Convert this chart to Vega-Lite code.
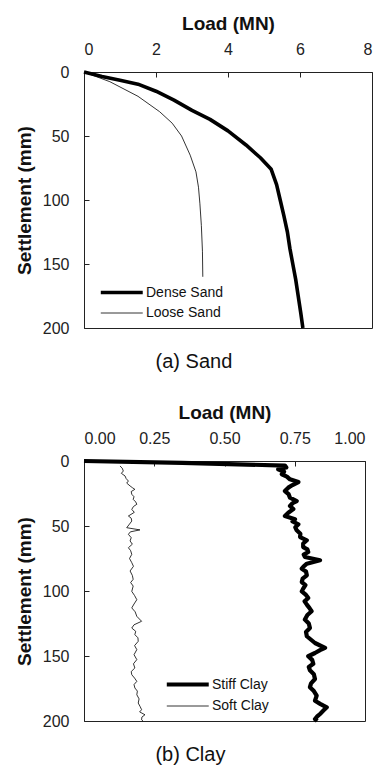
{
  "$schema": "https://vega.github.io/schema/vega-lite/v6.json",
  "background": "white",
  "padding": {"top": 13, "left": 14, "right": 0, "bottom": 0},
  "spacing": 29,
  "resolve": {"scale": {"strokeWidth": "independent"}, "legend": {"strokeWidth": "independent"}},
  "datasets": {
    "sand": [
      {"soil": "Dense Sand", "settlement": 0, "load": 0},
      {"soil": "Dense Sand", "settlement": 3.5, "load": 0.5},
      {"soil": "Dense Sand", "settlement": 6.5, "load": 1.0},
      {"soil": "Dense Sand", "settlement": 9.5, "load": 1.5},
      {"soil": "Dense Sand", "settlement": 15, "load": 2.0},
      {"soil": "Dense Sand", "settlement": 22, "load": 2.5},
      {"soil": "Dense Sand", "settlement": 30, "load": 3.0},
      {"soil": "Dense Sand", "settlement": 37, "load": 3.5},
      {"soil": "Dense Sand", "settlement": 46, "load": 4.0},
      {"soil": "Dense Sand", "settlement": 57, "load": 4.5},
      {"soil": "Dense Sand", "settlement": 67, "load": 4.9},
      {"soil": "Dense Sand", "settlement": 76, "load": 5.2},
      {"soil": "Dense Sand", "settlement": 88, "load": 5.35},
      {"soil": "Dense Sand", "settlement": 100, "load": 5.45},
      {"soil": "Dense Sand", "settlement": 112, "load": 5.55},
      {"soil": "Dense Sand", "settlement": 125, "load": 5.65},
      {"soil": "Dense Sand", "settlement": 138, "load": 5.72},
      {"soil": "Dense Sand", "settlement": 150, "load": 5.8},
      {"soil": "Dense Sand", "settlement": 162, "load": 5.88},
      {"soil": "Dense Sand", "settlement": 175, "load": 5.95},
      {"soil": "Dense Sand", "settlement": 188, "load": 6.02},
      {"soil": "Dense Sand", "settlement": 200, "load": 6.08},
      {"soil": "Loose Sand", "settlement": 0, "load": 0},
      {"soil": "Loose Sand", "settlement": 7.6, "load": 0.72},
      {"soil": "Loose Sand", "settlement": 19, "load": 1.5},
      {"soil": "Loose Sand", "settlement": 31, "load": 2.1},
      {"soil": "Loose Sand", "settlement": 40, "load": 2.45},
      {"soil": "Loose Sand", "settlement": 50, "load": 2.71},
      {"soil": "Loose Sand", "settlement": 65, "load": 2.95},
      {"soil": "Loose Sand", "settlement": 78, "load": 3.11},
      {"soil": "Loose Sand", "settlement": 90, "load": 3.18},
      {"soil": "Loose Sand", "settlement": 103, "load": 3.22},
      {"soil": "Loose Sand", "settlement": 120, "load": 3.26},
      {"soil": "Loose Sand", "settlement": 140, "load": 3.29},
      {"soil": "Loose Sand", "settlement": 160, "load": 3.3}
    ],
    "clay": [
      {"soil": "Stiff Clay", "settlement": 0, "load": 0},
      {"soil": "Stiff Clay", "settlement": 1.5, "load": 0.35},
      {"soil": "Stiff Clay", "settlement": 3.5, "load": 0.715},
      {"soil": "Stiff Clay", "settlement": 5, "load": 0.72},
      {"soil": "Stiff Clay", "settlement": 6.4, "load": 0.691},
      {"soil": "Stiff Clay", "settlement": 8.3, "load": 0.712},
      {"soil": "Stiff Clay", "settlement": 10.2, "load": 0.704},
      {"soil": "Stiff Clay", "settlement": 12, "load": 0.722},
      {"soil": "Stiff Clay", "settlement": 14.1, "load": 0.733},
      {"soil": "Stiff Clay", "settlement": 16.2, "load": 0.763},
      {"soil": "Stiff Clay", "settlement": 18.5, "load": 0.742},
      {"soil": "Stiff Clay", "settlement": 20.5, "load": 0.727},
      {"soil": "Stiff Clay", "settlement": 23.1, "load": 0.715},
      {"soil": "Stiff Clay", "settlement": 25.5, "load": 0.728},
      {"soil": "Stiff Clay", "settlement": 28.2, "load": 0.733},
      {"soil": "Stiff Clay", "settlement": 30.8, "load": 0.757},
      {"soil": "Stiff Clay", "settlement": 32.5, "load": 0.742},
      {"soil": "Stiff Clay", "settlement": 34.6, "load": 0.733},
      {"soil": "Stiff Clay", "settlement": 37, "load": 0.745},
      {"soil": "Stiff Clay", "settlement": 39.8, "load": 0.727},
      {"soil": "Stiff Clay", "settlement": 42.3, "load": 0.715},
      {"soil": "Stiff Clay", "settlement": 44.8, "load": 0.751},
      {"soil": "Stiff Clay", "settlement": 46.5, "load": 0.742},
      {"soil": "Stiff Clay", "settlement": 48.7, "load": 0.763},
      {"soil": "Stiff Clay", "settlement": 51, "load": 0.752},
      {"soil": "Stiff Clay", "settlement": 53.3, "load": 0.757},
      {"soil": "Stiff Clay", "settlement": 56, "load": 0.77},
      {"soil": "Stiff Clay", "settlement": 58.5, "load": 0.769},
      {"soil": "Stiff Clay", "settlement": 61, "load": 0.793},
      {"soil": "Stiff Clay", "settlement": 63.5, "load": 0.78},
      {"soil": "Stiff Clay", "settlement": 66.2, "load": 0.78},
      {"soil": "Stiff Clay", "settlement": 68, "load": 0.795},
      {"soil": "Stiff Clay", "settlement": 70, "load": 0.798},
      {"soil": "Stiff Clay", "settlement": 72, "load": 0.782},
      {"soil": "Stiff Clay", "settlement": 73.8, "load": 0.786},
      {"soil": "Stiff Clay", "settlement": 76.4, "load": 0.84},
      {"soil": "Stiff Clay", "settlement": 79, "load": 0.793},
      {"soil": "Stiff Clay", "settlement": 81, "load": 0.782},
      {"soil": "Stiff Clay", "settlement": 82.8, "load": 0.775},
      {"soil": "Stiff Clay", "settlement": 85, "load": 0.79},
      {"soil": "Stiff Clay", "settlement": 87.9, "load": 0.793},
      {"soil": "Stiff Clay", "settlement": 90.5, "load": 0.778},
      {"soil": "Stiff Clay", "settlement": 93.1, "load": 0.775},
      {"soil": "Stiff Clay", "settlement": 95.5, "load": 0.788},
      {"soil": "Stiff Clay", "settlement": 98.2, "load": 0.78},
      {"soil": "Stiff Clay", "settlement": 100.3, "load": 0.775},
      {"soil": "Stiff Clay", "settlement": 103, "load": 0.79},
      {"soil": "Stiff Clay", "settlement": 105.4, "load": 0.798},
      {"soil": "Stiff Clay", "settlement": 108, "load": 0.785},
      {"soil": "Stiff Clay", "settlement": 110.5, "load": 0.793},
      {"soil": "Stiff Clay", "settlement": 113, "load": 0.802},
      {"soil": "Stiff Clay", "settlement": 115.6, "load": 0.81},
      {"soil": "Stiff Clay", "settlement": 118.5, "load": 0.795},
      {"soil": "Stiff Clay", "settlement": 122, "load": 0.786},
      {"soil": "Stiff Clay", "settlement": 125, "load": 0.8},
      {"soil": "Stiff Clay", "settlement": 128.5, "load": 0.804},
      {"soil": "Stiff Clay", "settlement": 131.5, "load": 0.79},
      {"soil": "Stiff Clay", "settlement": 134.8, "load": 0.793},
      {"soil": "Stiff Clay", "settlement": 137.5, "load": 0.808},
      {"soil": "Stiff Clay", "settlement": 140, "load": 0.822},
      {"soil": "Stiff Clay", "settlement": 143.8, "load": 0.858},
      {"soil": "Stiff Clay", "settlement": 145.5, "load": 0.84},
      {"soil": "Stiff Clay", "settlement": 147.7, "load": 0.822},
      {"soil": "Stiff Clay", "settlement": 150.2, "load": 0.798},
      {"soil": "Stiff Clay", "settlement": 153, "load": 0.812},
      {"soil": "Stiff Clay", "settlement": 156, "load": 0.816},
      {"soil": "Stiff Clay", "settlement": 158.5, "load": 0.8},
      {"soil": "Stiff Clay", "settlement": 161, "load": 0.804},
      {"soil": "Stiff Clay", "settlement": 164, "load": 0.818},
      {"soil": "Stiff Clay", "settlement": 167.7, "load": 0.822},
      {"soil": "Stiff Clay", "settlement": 171, "load": 0.808},
      {"soil": "Stiff Clay", "settlement": 174, "load": 0.804},
      {"soil": "Stiff Clay", "settlement": 177, "load": 0.818},
      {"soil": "Stiff Clay", "settlement": 180.5, "load": 0.828},
      {"soil": "Stiff Clay", "settlement": 184.4, "load": 0.822},
      {"soil": "Stiff Clay", "settlement": 187, "load": 0.842},
      {"soil": "Stiff Clay", "settlement": 189.5, "load": 0.864},
      {"soil": "Stiff Clay", "settlement": 192, "load": 0.852},
      {"soil": "Stiff Clay", "settlement": 194.6, "load": 0.84},
      {"soil": "Stiff Clay", "settlement": 196.5, "load": 0.83},
      {"soil": "Stiff Clay", "settlement": 198.5, "load": 0.822},
      {"soil": "Stiff Clay", "settlement": 200, "load": 0.83},
      {"soil": "Soft Clay", "settlement": 3.8, "load": 0.128},
      {"soil": "Soft Clay", "settlement": 5.5, "load": 0.136},
      {"soil": "Soft Clay", "settlement": 7.7, "load": 0.14},
      {"soil": "Soft Clay", "settlement": 9.5, "load": 0.133},
      {"soil": "Soft Clay", "settlement": 11.5, "load": 0.146},
      {"soil": "Soft Clay", "settlement": 13.5, "load": 0.15},
      {"soil": "Soft Clay", "settlement": 15.4, "load": 0.158},
      {"soil": "Soft Clay", "settlement": 17, "load": 0.152},
      {"soil": "Soft Clay", "settlement": 19.2, "load": 0.164},
      {"soil": "Soft Clay", "settlement": 20.5, "load": 0.172},
      {"soil": "Soft Clay", "settlement": 21.8, "load": 0.181},
      {"soil": "Soft Clay", "settlement": 23.5, "load": 0.168},
      {"soil": "Soft Clay", "settlement": 25.6, "load": 0.17},
      {"soil": "Soft Clay", "settlement": 27.5, "load": 0.178},
      {"soil": "Soft Clay", "settlement": 29.5, "load": 0.175},
      {"soil": "Soft Clay", "settlement": 31.5, "load": 0.184},
      {"soil": "Soft Clay", "settlement": 33.3, "load": 0.188},
      {"soil": "Soft Clay", "settlement": 35, "load": 0.176},
      {"soil": "Soft Clay", "settlement": 37.2, "load": 0.17},
      {"soil": "Soft Clay", "settlement": 39.5, "load": 0.179},
      {"soil": "Soft Clay", "settlement": 42.3, "load": 0.158},
      {"soil": "Soft Clay", "settlement": 44, "load": 0.168},
      {"soil": "Soft Clay", "settlement": 46.2, "load": 0.17},
      {"soil": "Soft Clay", "settlement": 48.5, "load": 0.162},
      {"soil": "Soft Clay", "settlement": 51.3, "load": 0.152},
      {"soil": "Soft Clay", "settlement": 53, "load": 0.199},
      {"soil": "Soft Clay", "settlement": 54.5, "load": 0.165},
      {"soil": "Soft Clay", "settlement": 56.4, "load": 0.158},
      {"soil": "Soft Clay", "settlement": 59, "load": 0.168},
      {"soil": "Soft Clay", "settlement": 61.5, "load": 0.164},
      {"soil": "Soft Clay", "settlement": 64, "load": 0.172},
      {"soil": "Soft Clay", "settlement": 66.7, "load": 0.158},
      {"soil": "Soft Clay", "settlement": 69, "load": 0.166},
      {"soil": "Soft Clay", "settlement": 71.8, "load": 0.17},
      {"soil": "Soft Clay", "settlement": 75, "load": 0.162},
      {"soil": "Soft Clay", "settlement": 78.2, "load": 0.17},
      {"soil": "Soft Clay", "settlement": 81, "load": 0.176},
      {"soil": "Soft Clay", "settlement": 84.6, "load": 0.164},
      {"soil": "Soft Clay", "settlement": 88, "load": 0.172},
      {"soil": "Soft Clay", "settlement": 91, "load": 0.175},
      {"soil": "Soft Clay", "settlement": 93.5, "load": 0.166},
      {"soil": "Soft Clay", "settlement": 96.2, "load": 0.175},
      {"soil": "Soft Clay", "settlement": 100.3, "load": 0.17},
      {"soil": "Soft Clay", "settlement": 103.5, "load": 0.18},
      {"soil": "Soft Clay", "settlement": 106.7, "load": 0.188},
      {"soil": "Soft Clay", "settlement": 110, "load": 0.178},
      {"soil": "Soft Clay", "settlement": 113, "load": 0.17},
      {"soil": "Soft Clay", "settlement": 116, "load": 0.182},
      {"soil": "Soft Clay", "settlement": 119.5, "load": 0.188},
      {"soil": "Soft Clay", "settlement": 123.3, "load": 0.205},
      {"soil": "Soft Clay", "settlement": 126, "load": 0.178},
      {"soil": "Soft Clay", "settlement": 128.5, "load": 0.17},
      {"soil": "Soft Clay", "settlement": 131, "load": 0.184},
      {"soil": "Soft Clay", "settlement": 133.6, "load": 0.181},
      {"soil": "Soft Clay", "settlement": 136, "load": 0.192},
      {"soil": "Soft Clay", "settlement": 138.7, "load": 0.193},
      {"soil": "Soft Clay", "settlement": 142, "load": 0.18},
      {"soil": "Soft Clay", "settlement": 145.1, "load": 0.188},
      {"soil": "Soft Clay", "settlement": 149, "load": 0.178},
      {"soil": "Soft Clay", "settlement": 152.8, "load": 0.188},
      {"soil": "Soft Clay", "settlement": 156, "load": 0.176},
      {"soil": "Soft Clay", "settlement": 159.2, "load": 0.181},
      {"soil": "Soft Clay", "settlement": 162, "load": 0.168},
      {"soil": "Soft Clay", "settlement": 164.4, "load": 0.17},
      {"soil": "Soft Clay", "settlement": 167, "load": 0.18},
      {"soil": "Soft Clay", "settlement": 169.5, "load": 0.188},
      {"soil": "Soft Clay", "settlement": 172, "load": 0.178},
      {"soil": "Soft Clay", "settlement": 174.6, "load": 0.181},
      {"soil": "Soft Clay", "settlement": 177, "load": 0.19},
      {"soil": "Soft Clay", "settlement": 179.8, "load": 0.188},
      {"soil": "Soft Clay", "settlement": 183, "load": 0.196},
      {"soil": "Soft Clay", "settlement": 186.2, "load": 0.193},
      {"soil": "Soft Clay", "settlement": 189, "load": 0.2},
      {"soil": "Soft Clay", "settlement": 191.3, "load": 0.205},
      {"soil": "Soft Clay", "settlement": 193, "load": 0.198},
      {"soil": "Soft Clay", "settlement": 195.2, "load": 0.217},
      {"soil": "Soft Clay", "settlement": 197, "load": 0.206},
      {"soil": "Soft Clay", "settlement": 199.1, "load": 0.205},
      {"soil": "Soft Clay", "settlement": 200, "load": 0.21}
    ]
  },
  "vconcat": [
    {
      "width": 288,
      "height": 256,
      "data": {"name": "sand"},
      "title": {"text": "(a)  Sand", "orient": "bottom", "frame": "bounds", "anchor": "middle", "offset": 16},
      "mark": {"type": "line", "color": "black", "strokeJoin": "round"},
      "encoding": {
        "x": {"field": "load", "type": "quantitative", "scale": {"domain": [0, 8], "nice": false},
          "axis": {"orient": "top", "title": "Load (MN)", "values": [0, 2, 4, 6, 8], "format": "d"}},
        "y": {"field": "settlement", "type": "quantitative", "scale": {"domain": [0, 200], "reverse": true, "nice": false},
          "axis": {"title": "Settlement (mm)", "values": [0, 50, 100, 150, 200]}},
        "order": {"field": "settlement", "type": "quantitative"},
        "strokeWidth": {"field": "soil", "type": "nominal",
          "scale": {"domain": ["Dense Sand", "Loose Sand"], "range": [3.6, 0.8]},
          "legend": {"title": null, "orient": "none", "legendX": 46, "legendY": 213}}
      }
    },
    {
      "width": 281,
      "height": 260,
      "data": {"name": "clay"},
      "title": {"text": "(b)  Clay", "orient": "bottom", "frame": "bounds", "anchor": "middle", "offset": 16},
      "mark": {"type": "line", "color": "black", "strokeJoin": "round"},
      "encoding": {
        "x": {"field": "load", "type": "quantitative", "scale": {"domain": [0, 1], "nice": false},
          "axis": {"orient": "top", "title": "Load (MN)", "values": [0, 0.25, 0.5, 0.75, 1], "format": ".2f"}},
        "y": {"field": "settlement", "type": "quantitative", "scale": {"domain": [0, 200], "reverse": true, "nice": false},
          "axis": {"title": "Settlement (mm)", "values": [0, 50, 100, 150, 200]}},
        "order": {"field": "settlement", "type": "quantitative"},
        "strokeWidth": {"field": "soil", "type": "nominal",
          "scale": {"domain": ["Stiff Clay", "Soft Clay"], "range": [4.2, 0.8]},
          "legend": {"title": null, "orient": "none", "legendX": 112, "legendY": 216}}
      }
    }
  ],
  "config": {
    "font": "Liberation Sans",
    "view": {"stroke": "#222", "strokeWidth": 1},
    "axis": {
      "grid": false,
      "labelFont": "Liberation Sans",
      "labelFontSize": 16,
      "labelColor": "#222",
      "labelPadding": 20,
      "titleFont": "Liberation Sans",
      "titleFontSize": 19,
      "titleFontWeight": "bold",
      "titleColor": "#111",
      "titlePadding": 8,
      "tickSize": -5,
      "tickColor": "#222",
      "domainColor": "#222"
    },
    "legend": {
      "labelFont": "Liberation Sans",
      "labelFontSize": 14,
      "labelColor": "#111",
      "symbolType": "M-7,0H1",
      "symbolSize": 110,
      "symbolStrokeColor": "black",
      "labelOffset": 1,
      "rowPadding": 6
    },
    "title": {"font": "Liberation Sans", "fontSize": 20, "fontWeight": "normal", "color": "#111"}
  }
}
